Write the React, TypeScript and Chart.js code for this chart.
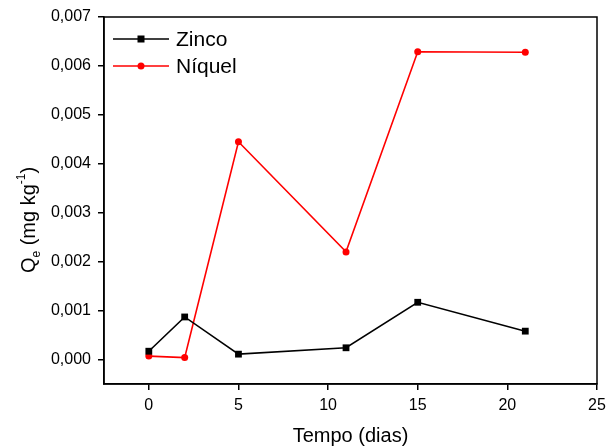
import React, { useEffect, useRef } from "react";
import { Chart, registerables } from "chart.js";

Chart.register(...registerables);

const days = [0, 2, 5, 11, 15, 21];
const zinco = [0.00017, 0.00087, 0.00011, 0.00024, 0.00117, 0.00058];
const niquel = [0.00007, 0.00004, 0.00445, 0.0022, 0.00629, 0.00628];
const xTicks = [0, 5, 10, 15, 20, 25];
const yTicks = [0, 0.001, 0.002, 0.003, 0.004, 0.005, 0.006, 0.007];
const seriesNames = ["Zinco", "Níquel"];
const xTitle = "Tempo (dias)";

const FONT = "'Liberation Sans', Arial, sans-serif";

const decorPlugin = {
  id: "decor",
  afterDraw(chart: any) {
    const ctx = chart.ctx;
    const a = chart.chartArea;
    ctx.save();
    // box
    ctx.strokeStyle = "#000";
    ctx.lineWidth = 1.5;
    ctx.strokeRect(a.left, a.top, a.right - a.left, a.bottom - a.top);

    // x title
    ctx.fillStyle = "#000";
    ctx.font = `20px ${FONT}`;
    ctx.textAlign = "center";
    ctx.textBaseline = "alphabetic";
    ctx.fillText(xTitle, (a.left + a.right) / 2, 442);

    // y title with sub/superscript
    const big = `20px ${FONT}`;
    const small = `12px ${FONT}`;
    const parts = [
      { t: "Q", f: big, dy: 0 },
      { t: "e", f: small, dy: 5 },
      { t: " (mg kg", f: big, dy: 0 },
      { t: "-1", f: small, dy: -10 },
      { t: ")", f: big, dy: 0 },
    ];
    let total = 0;
    for (const p of parts) {
      ctx.font = p.f;
      total += ctx.measureText(p.t).width;
    }
    ctx.translate(35, 220);
    ctx.rotate(-Math.PI / 2);
    ctx.textAlign = "left";
    let x = -total / 2;
    for (const p of parts) {
      ctx.font = p.f;
      ctx.fillText(p.t, x, p.dy);
      x += ctx.measureText(p.t).width;
    }
    ctx.setTransform(1, 0, 0, 1, 0, 0);

    // legend
    const ds = chart.data.datasets;
    const rows = [39, 66];
    ds.forEach((d: any, i: number) => {
      const y = rows[i];
      ctx.strokeStyle = d.borderColor;
      ctx.lineWidth = 1.5;
      ctx.beginPath();
      ctx.moveTo(113, y);
      ctx.lineTo(169, y);
      ctx.stroke();
      ctx.fillStyle = d.pointBackgroundColor;
      if (d.pointStyle === "rect") {
        ctx.fillRect(141 - 3.5, y - 3.5, 7, 7);
      } else {
        ctx.beginPath();
        ctx.arc(141, y, 3.5, 0, Math.PI * 2);
        ctx.fill();
      }
      ctx.fillStyle = "#000";
      ctx.font = `21px ${FONT}`;
      ctx.textAlign = "left";
      ctx.textBaseline = "middle";
      ctx.fillText(seriesNames[i], 176, y + 1);
    });
    ctx.restore();
  },
};

export default function App() {
  const ref = useRef<HTMLCanvasElement>(null);
  useEffect(() => {
    const chart = new Chart(ref.current as HTMLCanvasElement, {
      type: "line",
      data: {
        datasets: [
          {
            label: seriesNames[0],
            data: days.map((d, i) => ({ x: d, y: zinco[i] })),
            borderColor: "#000000",
            backgroundColor: "#000000",
            pointBackgroundColor: "#000000",
            pointBorderColor: "#000000",
            pointStyle: "rect",
            pointRadius: 4.8,
            pointBorderWidth: 0,
            borderWidth: 1.6,
          },
          {
            label: seriesNames[1],
            data: days.map((d, i) => ({ x: d, y: niquel[i] })),
            borderColor: "#ff0000",
            backgroundColor: "#ff0000",
            pointBackgroundColor: "#ff0000",
            pointBorderColor: "#ff0000",
            pointStyle: "circle",
            pointRadius: 3.5,
            pointBorderWidth: 0,
            borderWidth: 1.6,
          },
        ],
      },
      options: {
        animation: false,
        responsive: false,
        layout: { padding: { top: 17, right: 9, left: 0, bottom: 0 } },
        plugins: { legend: { display: false }, tooltip: { enabled: false } },
        scales: {
          x: {
            type: "linear",
            min: -2.5,
            max: 25,
            afterBuildTicks: (s: any) => {
              s.ticks = xTicks.map((v) => ({ value: v }));
            },
            afterFit: (s: any) => {
              s.height = 63;
              s.paddingLeft = 0;
              s.paddingRight = 0;
            },
            grid: {
              drawOnChartArea: false,
              drawTicks: true,
              tickLength: 6,
              color: "#000",
              lineWidth: 1.5,
            },
            border: { display: true, color: "#000", width: 1.5 },
            ticks: {
              color: "#000",
              font: { family: FONT, size: 16 },
              padding: 6,
              maxRotation: 0,
              callback: (v: any) => String(v),
            },
          },
          y: {
            type: "linear",
            min: -0.0005,
            max: 0.007,
            afterBuildTicks: (s: any) => {
              s.ticks = yTicks.map((v) => ({ value: v }));
            },
            afterFit: (s: any) => {
              s.width = 104;
              s.paddingTop = 0;
              s.paddingBottom = 0;
            },
            grid: {
              drawOnChartArea: false,
              drawTicks: true,
              tickLength: 6,
              color: "#000",
              lineWidth: 1.5,
            },
            border: { display: true, color: "#000", width: 1.5 },
            ticks: {
              color: "#000",
              font: { family: FONT, size: 16 },
              padding: 7,
              callback: (v: any) => Number(v).toFixed(3).replace(".", ","),
            },
          },
        },
      },
      plugins: [decorPlugin],
    } as any);
    return () => chart.destroy();
  }, []);
  return (
    <div style={{ position: "absolute", left: 0, top: 0, width: 606, height: 447, background: "#fff" }}>
      <canvas ref={ref} width={606} height={447} style={{ width: 606, height: 447 }} />
    </div>
  );
}
